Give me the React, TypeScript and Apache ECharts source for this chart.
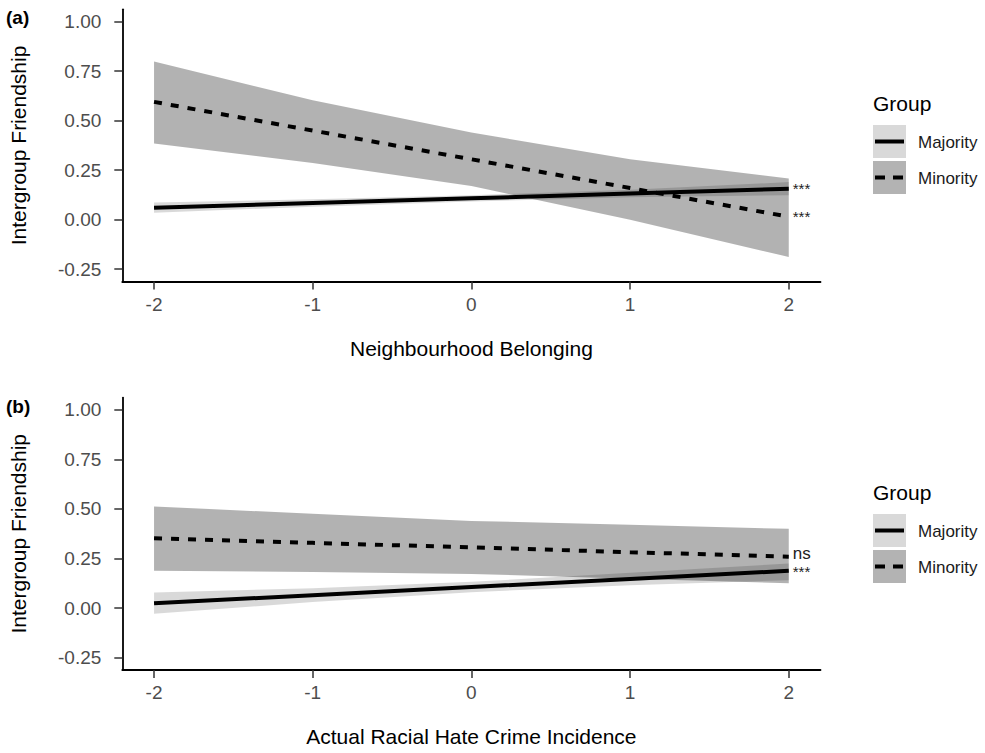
import React, { useEffect, useRef } from "react";
import * as echarts from "echarts";

// ---------- data ----------
const xValues = [-2, -1, 0, 1, 2];
const xTicks = [-2, -1, 0, 1, 2];
const yTicks = [-0.25, 0, 0.25, 0.5, 0.75, 1.0];
const groups = ["Majority", "Minority"];
const panelLabels = ["(a)", "(b)"];
const xTitles = ["Neighbourhood Belonging", "Actual Racial Hate Crime Incidence"];
const yTitle = "Intergroup Friendship";
const legendTitle = "Group";

// Panel (a): Neighbourhood Belonging
const aMajorityFit = [0.06, 0.084, 0.108, 0.132, 0.156];
const aMajorityLow = [0.035, 0.066, 0.092, 0.113, 0.124];
const aMajorityHigh = [0.087, 0.103, 0.124, 0.151, 0.19];
const aMinorityFit = [0.595, 0.45, 0.305, 0.16, 0.015];
const aMinorityLow = [0.385, 0.286, 0.17, 0.0, -0.188];
const aMinorityHigh = [0.799, 0.603, 0.44, 0.305, 0.208];
const aSignif = ["***", "***"];

// Panel (b): Actual Racial Hate Crime Incidence
const bMajorityFit = [0.024, 0.065, 0.106, 0.147, 0.188];
const bMajorityLow = [-0.029, 0.03, 0.08, 0.115, 0.14];
const bMajorityHigh = [0.078, 0.1, 0.132, 0.178, 0.225];
const bMinorityFit = [0.352, 0.329, 0.306, 0.282, 0.259];
const bMinorityLow = [0.188, 0.182, 0.172, 0.148, 0.125];
const bMinorityHigh = [0.513, 0.476, 0.44, 0.42, 0.4];
const bSignif = ["***", "ns"];

// ---------- styling ----------
const FONT = "Liberation Sans, Arial, Helvetica, sans-serif";
const MAJ_FILL = "rgba(0,0,0,0.15)";
const MIN_FILL = "rgba(0,0,0,0.30)";
const MAJ_KEY = "#d9d9d9";
const MIN_KEY = "#b3b3b3";
const GRID_TOPS = [9.3, 397.6];
const GRID_H = 272.3;

function ribbon(idx: number, low: number[], high: number[], fill: string) {
  return {
    type: "custom",
    xAxisIndex: idx,
    yAxisIndex: idx,
    silent: true,
    z: 1,
    data: xValues.map((x, i) => [x, low[i], high[i]]),
    encode: { x: 0, y: [1, 2] },
    renderItem: (params: any, api: any) => {
      if (params.dataIndex !== 0) return { type: "group", children: [] };
      const top = xValues.map((x, i) => api.coord([x, high[i]]));
      const bot = xValues.map((x, i) => api.coord([x, low[i]])).reverse();
      return {
        type: "polygon",
        shape: { points: [...top, ...bot] },
        style: { fill },
      };
    },
  };
}

function fitLine(idx: number, fit: number[], dashed: boolean, sig: string, small: boolean, offY: number) {
  return {
    type: "line",
    xAxisIndex: idx,
    yAxisIndex: idx,
    z: 3,
    symbol: "none",
    showSymbol: false,
    silent: true,
    data: xValues.map((x, i) => [x, fit[i]]),
    lineStyle: { color: "#000", width: 4, type: dashed ? [8, 9] : "solid", cap: "butt" },
    endLabel: {
      show: true,
      formatter: sig,
      color: "#222",
      fontFamily: FONT,
      fontSize: small ? 15 : 17,
      distance: 4,
      offset: [0, offY],
    },
  };
}

function legendGraphic(top: number) {
  const g: any[] = [];
  g.push({
    type: "text",
    left: 873,
    top: top - 25,
    style: { text: legendTitle, fontSize: 21, fontFamily: FONT, fill: "#000" },
  });
  const keyTops = [top + 7, top + 43];
  const fills = [MAJ_KEY, MIN_KEY];
  groups.forEach((name, i) => {
    const y0 = keyTops[i];
    g.push({ type: "rect", shape: { x: 873, y: y0, width: 33, height: 33 }, style: { fill: fills[i] } });
    g.push({
      type: "line",
      shape: { x1: 875, y1: y0 + 16.5, x2: 904, y2: y0 + 16.5 },
      style: { stroke: "#000", lineWidth: 4, lineDash: i === 1 ? [10, 8] : null },
    });
    g.push({
      type: "text",
      x: 918,
      y: y0 + 17,
      style: { text: name, fontSize: 17, fontFamily: FONT, fill: "#1a1a1a", verticalAlign: "middle" },
    });
  });
  return g;
}

export default function App() {
  const ref = useRef<HTMLDivElement>(null);
  useEffect(() => {
    if (!ref.current) return;
    const chart = echarts.init(ref.current, undefined, { renderer: "svg" });

    const xAxes = [0, 1].map((i) => ({
      type: "value",
      gridIndex: i,
      min: -2.2,
      max: 2.2,
      name: xTitles[i],
      nameLocation: "middle",
      nameGap: 56,
      nameTextStyle: { fontSize: 21, fontFamily: FONT, color: "#000" },
      splitLine: { show: false },
      axisLine: { show: true, onZero: false, lineStyle: { color: "#000", width: 1.8 } },
      axisTick: { show: true, length: 8, customValues: xTicks, lineStyle: { color: "#333", width: 1.5 } },
      axisLabel: {
        customValues: xTicks,
        margin: 13,
        fontSize: 19,
        fontFamily: FONT,
        color: "#4d4d4d",
        formatter: (v: number) => String(v),
      },
    }));
    const yAxes = [0, 1].map((i) => ({
      type: "value",
      gridIndex: i,
      min: -0.3125,
      max: 1.0625,
      name: yTitle,
      nameLocation: "middle",
      nameGap: 93,
      nameRotate: 90,
      nameTextStyle: { fontSize: 21, fontFamily: FONT, color: "#000" },
      splitLine: { show: false },
      axisLine: { show: true, onZero: false, lineStyle: { color: "#000", width: 1.8 } },
      axisTick: { show: true, length: 8, customValues: yTicks, lineStyle: { color: "#333", width: 1.5 } },
      axisLabel: {
        customValues: yTicks,
        margin: 21,
        fontSize: 19,
        fontFamily: FONT,
        color: "#4d4d4d",
        formatter: (v: number) => v.toFixed(2),
      },
    }));

    const option: any = {
      animation: false,
      backgroundColor: "#fff",
      grid: GRID_TOPS.map((t) => ({ left: 122.3, right: 164.5, top: t, height: GRID_H, containLabel: false })),
      xAxis: xAxes,
      yAxis: yAxes,
      series: [
        ribbon(0, aMajorityLow, aMajorityHigh, MAJ_FILL),
        ribbon(0, aMinorityLow, aMinorityHigh, MIN_FILL),
        fitLine(0, aMajorityFit, false, aSignif[0], true, 0),
        fitLine(0, aMinorityFit, true, aSignif[1], true, 0),
        ribbon(1, bMajorityLow, bMajorityHigh, MAJ_FILL),
        ribbon(1, bMinorityLow, bMinorityHigh, MIN_FILL),
        fitLine(1, bMajorityFit, false, bSignif[0], true, 1),
        fitLine(1, bMinorityFit, true, bSignif[1], false, -3),
      ],
      graphic: [
        ...panelLabels.map((lab, i) => ({
          type: "text",
          left: 6,
          top: GRID_TOPS[i] - 1,
          style: { text: lab, fontSize: 19, fontWeight: "bold", fontFamily: FONT, fill: "#000" },
        })),
        ...legendGraphic(118),
        ...legendGraphic(507),
      ],
    };
    chart.setOption(option);
    return () => chart.dispose();
  }, []);
  return <div ref={ref} style={{ width: 985, height: 753, position: "absolute", left: 0, top: 0 }} />;
}
